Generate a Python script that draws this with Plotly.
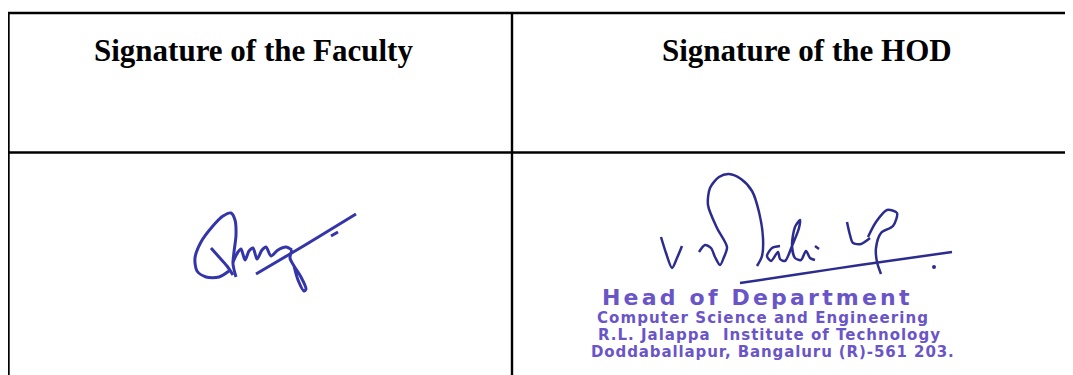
import plotly.graph_objects as go

# ---- content ----
header_labels = ["Signature of the Faculty", "Signature of the HOD"]
header_x = [253, 807]
stamp_lines = [
    "Head of Department",
    "Computer Science and Engineering",
    "R.L. Jalappa&nbsp; Institute of Technology",
    "Doddaballapur, Bangaluru (R)-561 203.",
]
stamp_x = [757, 763, 769, 773]
stamp_y = [297, 318, 335, 352]

# table grid
col_edges = [8.5, 512]
row_edges = [13, 152.5]

# ---- signature strokes (page pixel points) ----
fac_loop_x = [229, 219, 206, 197, 195, 201, 212, 223, 231, 235, 236, 234, 233, 236]
fac_loop_y = [271, 277, 277, 271, 258, 242, 227, 216, 213, 220, 235, 252, 264, 277]
fac_cross_x = [211, 219, 227, 233]
fac_cross_y = [248, 257, 266, 275]
fac_hump_x = [233, 238, 241, 245, 249, 253, 257, 262, 266, 271, 278, 286, 292]
fac_hump_y = [262, 252, 249, 260, 251, 248, 259, 250, 247, 256, 250, 247, 250]
fac_desc_x = [292, 290, 294, 301, 306, 304, 298, 294]
fac_desc_y = [250, 258, 266, 277, 289, 291, 280, 266]
fac_long_x = [256, 290, 320, 356]
fac_long_y = [274, 254, 236, 214]
fac_tick_x = [331, 338]
fac_tick_y = [236, 232]

hod_v_x = [661, 666, 672, 677, 682]
hod_v_y = [237, 253, 268, 258, 246]
hod_d_x = [699, 705, 711, 715, 720, 724, 727, 717, 708, 710, 719, 729, 741, 752, 759, 763, 762, 757]
hod_d_y = [252, 245, 248, 257, 265, 257, 247, 228, 205, 188, 177, 174, 179, 191, 212, 238, 256, 266]
hod_a_x = [780, 772, 767, 771, 778, 780, 785, 792, 799, 800, 795, 792, 795, 801, 806, 810, 815]
hod_a_y = [246, 248, 256, 261, 252, 259, 261, 246, 228, 220, 227, 245, 258, 260, 251, 258, 260]
hod_dot_x = [815, 819]
hod_dot_y = [246, 249]
hod_four_x = [847, 850, 853, 861, 870]
hod_four_y = [222, 235, 243, 244, 238]
hod_loop_x = [868, 876, 887, 897, 893, 881, 876, 877, 881]
hod_loop_y = [237, 222, 210, 213, 226, 233, 248, 262, 274]
hod_under_x = [740, 800, 860, 952]
hod_under_y = [283, 274, 265, 252]
hod_pt_x = [934]
hod_pt_y = [267]

W, H = 1073, 375
OFF = 8  # page body margin: the plot div starts at (8, 8)
fig = go.Figure()

fac_ink = "#3535aa"
hod_ink = "#2c2c8e"
stamp_ink = "#6a55c8"

def stroke(xs, ys, color, width):
    fig.add_trace(go.Scatter(x=xs, y=ys, mode="lines",
                             line=dict(color=color, width=width, shape="spline", smoothing=0.8),
                             hoverinfo="skip", showlegend=False))

for xs, ys in [(fac_loop_x, fac_loop_y), (fac_cross_x, fac_cross_y), (fac_hump_x, fac_hump_y),
               (fac_desc_x, fac_desc_y), (fac_long_x, fac_long_y), (fac_tick_x, fac_tick_y)]:
    stroke(xs, ys, fac_ink, 3)

for xs, ys in [(hod_v_x, hod_v_y), (hod_d_x, hod_d_y), (hod_a_x, hod_a_y), (hod_dot_x, hod_dot_y),
               (hod_four_x, hod_four_y), (hod_loop_x, hod_loop_y), (hod_under_x, hod_under_y)]:
    stroke(xs, ys, hod_ink, 2.5)

fig.add_trace(go.Scatter(x=hod_pt_x, y=hod_pt_y, mode="markers",
                         marker=dict(color=hod_ink, size=4), hoverinfo="skip", showlegend=False))

# grid lines
line_style = dict(color="black", width=2.4)
for ry in row_edges:
    fig.add_shape(type="line", xref="x", yref="y", x0=col_edges[0] - 1, x1=W + 2, y0=ry, y1=ry, line=line_style)
for cx in col_edges:
    fig.add_shape(type="line", xref="x", yref="y", x0=cx, x1=cx, y0=row_edges[0] - 1, y1=H + 2, line=line_style)

# headers
for lab, hx in zip(header_labels, header_x):
    fig.add_annotation(x=hx, y=50, xref="x", yref="y", text="<b>" + lab + "</b>", showarrow=False,
                       xanchor="center", yanchor="middle",
                       font=dict(family="Liberation Serif, Times New Roman, serif", size=31, color="black"))

# stamp
stamp_sizes = [22, 15, 15, 15]
stamp_spacing = [3.2, 1.1, 1.0, 0.9]
for t, sx, sy, fs, sp in zip(stamp_lines, stamp_x, stamp_y, stamp_sizes, stamp_spacing):
    fig.add_annotation(x=sx, y=sy, xref="x", yref="y",
                       text='<b><span style="letter-spacing:%spx">%s</span></b>' % (sp, t),
                       showarrow=False, xanchor="center", yanchor="middle",
                       font=dict(family="DejaVu Sans, Arial, sans-serif", size=fs, color=stamp_ink))

fig.update_layout(
    width=W - OFF, height=H - OFF, margin=dict(l=0, r=0, t=0, b=0),
    paper_bgcolor="white", plot_bgcolor="white",
    xaxis=dict(range=[OFF, W], visible=False, fixedrange=True),
    yaxis=dict(range=[H, OFF], visible=False, fixedrange=True),
    showlegend=False,
)

fig.write_html("out.html", config={"displayModeBar": False})
